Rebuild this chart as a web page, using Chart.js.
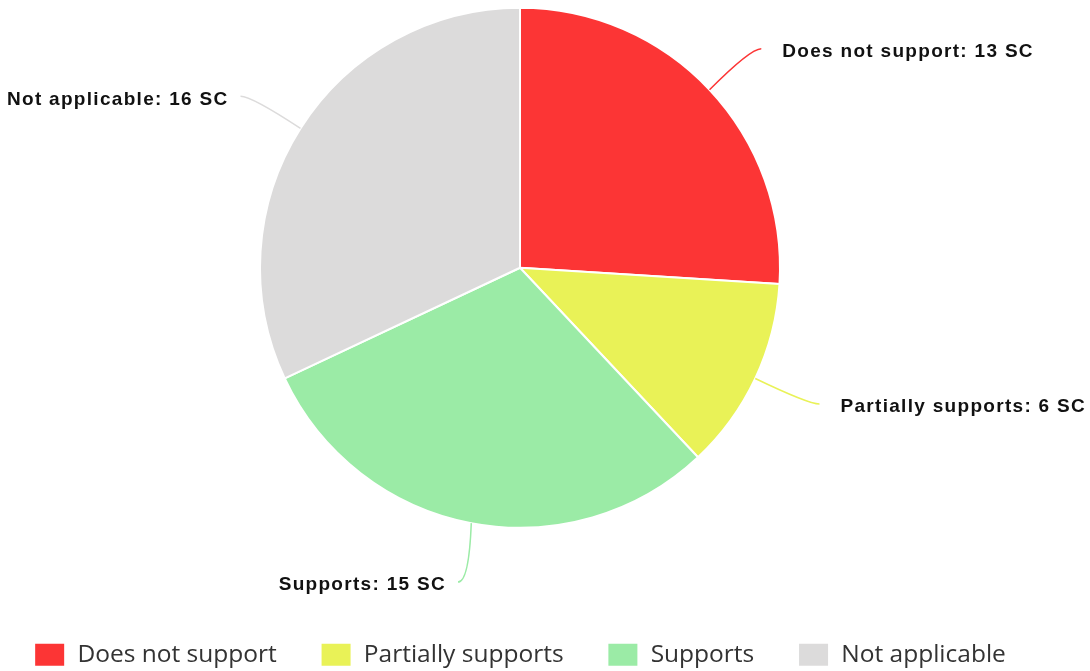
<!DOCTYPE html>
<html>
<head>
<meta charset="utf-8">
<script src="https://cdn.jsdelivr.net/npm/chart.js@4/dist/chart.umd.min.js"></script>
<style>
	html, body { margin: 0; padding: 0; background: #fff; }
	#wrap { width: 1090px; height: 671px; position: relative; }
</style>
</head>
<body>
<div id="wrap"><canvas id="graficoSuporte"></canvas></div>
<script>
var categorias = ['Does not support', 'Partially supports', 'Supports', 'Not applicable'];
var quantidades = [13, 6, 15, 16];
var unidade = 'SC';
var cores = ['#FC3535', '#E9F257', '#9BEBA6', '#DCDBDB'];

// rotulos com linha de ligacao ate a borda da fatia
var rotulosPlugin = {
	id: 'rotulos',
	afterDatasetsDraw: function(chart) {
		var ctx = chart.ctx;
		var meta = chart.getDatasetMeta(0);
		ctx.save();
		meta.data.forEach(function(arc, i) {
			var p = arc.getProps(['x', 'y', 'startAngle', 'endAngle', 'outerRadius'], true);
			var meio = (p.startAngle + p.endAngle) / 2;
			var cos = Math.cos(meio), sin = Math.sin(meio);
			var x0 = p.x + cos * p.outerRadius;
			var y0 = p.y + sin * p.outerRadius;
			var x1 = p.x + cos * (p.outerRadius + 71);
			var y1 = p.y + sin * (p.outerRadius + 60);
			var dir = cos >= 0 ? 1 : -1;

			ctx.beginPath();
			ctx.strokeStyle = cores[i];
			ctx.lineWidth = 1.5;
			ctx.moveTo(x0, y0);
			ctx.quadraticCurveTo(x1 - dir * 11, y1, x1, y1);
			ctx.stroke();

			ctx.font = 'bold 19px "Liberation Sans", Arial, sans-serif';
			ctx.letterSpacing = '1.3px';
			ctx.fillStyle = '#111';
			ctx.textBaseline = 'middle';
			ctx.textAlign = dir > 0 ? 'left' : 'right';
			var texto = categorias[i] + ': ' + quantidades[i] + ' ' + unidade;
			ctx.fillText(texto, x1 + dir * (dir > 0 ? 21 : 12), y1 + 3);
		});
		ctx.restore();
	}
};

var ctx = document.getElementById('graficoSuporte').getContext('2d');
new Chart(ctx, {
	type: 'pie',
	data: {
		labels: categorias,
		datasets: [{
			data: quantidades,
			backgroundColor: cores,
			borderColor: '#fff',
			borderWidth: 2,
			hoverOffset: 0,
			radius: 260
		}]
	},
	options: {
		responsive: true,
		maintainAspectRatio: false,
		animation: false,
		layout: { padding: { top: 0, left: 0, right: 50, bottom: -6 } },
		plugins: {
			tooltip: { enabled: false },
			legend: {
				position: 'bottom',
				title: { display: true, text: '', font: { size: 12, lineHeight: 1 }, padding: { top: 83, bottom: 0 } },
				labels: {
					boxWidth: 31,
					boxHeight: 24,
					padding: 12,
					color: '#333',
					font: { family: '"Open Sans", sans-serif', size: 24.5 },
					generateLabels: function(chart) {
						var itens = Chart.overrides.pie.plugins.legend.labels.generateLabels(chart);
						// espaco extra entre os itens da legenda
						itens.forEach(function(item, i) {
							if (i < itens.length - 1) item.text = item.text + '     ';
						});
						return itens;
					}
				}
			}
		}
	},
	plugins: [rotulosPlugin]
});
</script>
</body>
</html>
